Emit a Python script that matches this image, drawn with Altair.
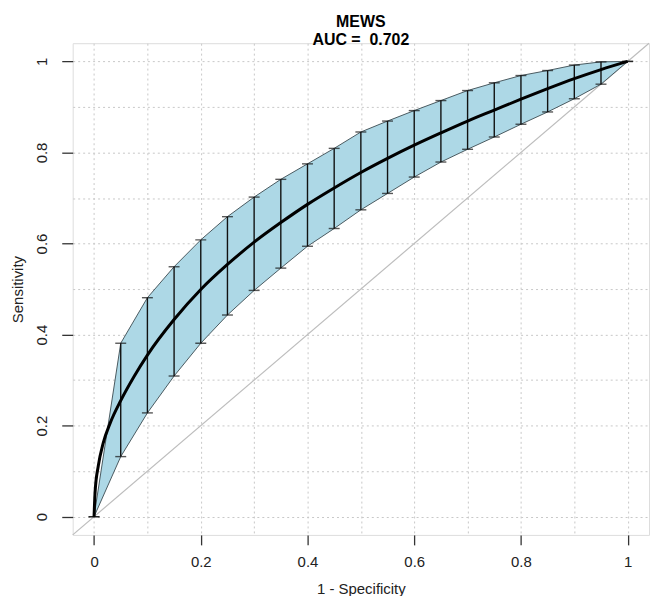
import altair as alt
import pandas as pd

# --- data ---
bar_x = [0.0, 0.05, 0.10, 0.15, 0.20, 0.25, 0.30, 0.35, 0.40, 0.45, 0.50,
         0.55, 0.60, 0.65, 0.70, 0.75, 0.80, 0.85, 0.90, 0.95, 1.0]
band_hi = [0.0, 0.381, 0.481, 0.549, 0.608, 0.659, 0.702, 0.741, 0.775, 0.809, 0.845,
           0.869, 0.892, 0.914, 0.936, 0.953, 0.969, 0.980, 0.992, 0.999, 1.0]
band_lo = [0.0, 0.132, 0.228, 0.309, 0.381, 0.443, 0.497, 0.546, 0.594, 0.633, 0.674,
           0.710, 0.746, 0.779, 0.807, 0.834, 0.862, 0.889, 0.918, 0.950, 1.0]

curve_x = [0.0, 0.002, 0.008, 0.017, 0.03, 0.05, 0.075, 0.10, 0.15, 0.20, 0.25, 0.30,
           0.35, 0.40, 0.45, 0.50, 0.55, 0.60, 0.65, 0.70, 0.75, 0.80, 0.85, 0.90, 0.95, 1.0]
curve_y = [0.0, 0.055, 0.112, 0.161, 0.205, 0.255, 0.308, 0.355, 0.433, 0.499, 0.554, 0.603,
           0.646, 0.686, 0.722, 0.756, 0.787, 0.816, 0.843, 0.869, 0.893, 0.917, 0.940, 0.962, 0.982, 1.0]

diag_v = [-0.04, 1.04]
grid_vals = [0.0, 0.1, 0.2, 0.3, 0.4, 0.5, 0.6, 0.7, 0.8, 0.9, 1.0]
tick_vals = [0.0, 0.2, 0.4, 0.6, 0.8, 1.0]

title_lines = ["MEWS", "AUC =\u00a0 0.702"]
x_title = "1 - Specificity"
y_title = "Sensitivity"

FONT = "Liberation Sans"

band_df = pd.DataFrame({"x": bar_x, "lo": band_lo, "hi": band_hi})
curve_df = pd.DataFrame({"x": curve_x, "y": curve_y})
diag_df = pd.DataFrame({"x": diag_v, "y": diag_v})

xs = alt.Scale(domain=[-0.04, 1.04], nice=False, zero=False)
ys = alt.Scale(domain=[-0.04, 1.04], nice=False, zero=False)

label_expr = "datum.value == 0 ? '0' : datum.value == 1 ? '1' : format(datum.value, '.1f')"

grid_axis = dict(values=grid_vals, grid=True, labels=False, ticks=False, domain=False,
                 title=None, gridColor="#c8c8c8", gridDash=[2, 3], gridWidth=1)

diag = alt.Chart(diag_df).mark_line(color="#bdbdbd", strokeWidth=1.2).encode(
    x=alt.X("x:Q", scale=xs, axis=alt.Axis(orient="bottom", **grid_axis)),
    y=alt.Y("y:Q", scale=ys, axis=alt.Axis(orient="left", **grid_axis)),
)

band = alt.Chart(band_df).mark_area(
    color="#add8e6", fillOpacity=1, stroke="#4a5a60", strokeWidth=1
).encode(
    x=alt.X("x:Q", scale=xs, axis=alt.Axis(
        orient="bottom", values=tick_vals, grid=False, domain=False,
        tickSize=10, tickColor="#333333", tickWidth=1.3,
        labelExpr=label_expr, labelFont=FONT, labelFontSize=15, labelColor="#222222",
        labelPadding=10, title=x_title, titleFont=FONT, titleFontSize=15,
        titleFontWeight="normal", titleColor="#222222", titlePadding=12)),
    y=alt.Y("hi:Q", scale=ys, axis=alt.Axis(
        orient="left", values=tick_vals, grid=False, domain=False,
        tickSize=11, tickColor="#333333", tickWidth=1.3,
        labelExpr=label_expr, labelFont=FONT, labelFontSize=15, labelColor="#222222",
        labelAngle=270, labelAlign="center", labelBaseline="bottom", labelPadding=12,
        title=y_title, titleFont=FONT, titleFontSize=15, titleFontWeight="normal",
        titleColor="#222222", titlePadding=9)),
    y2="lo:Q",
)

bars = alt.Chart(band_df).mark_rule(color="#111111", strokeWidth=1.4).encode(
    x=alt.X("x:Q", scale=xs, axis=None),
    y=alt.Y("lo:Q", scale=ys, axis=None),
    y2="hi:Q",
)

cap_hi = alt.Chart(band_df).mark_tick(color="#111111", orient="horizontal", size=11, thickness=1.4).encode(
    x=alt.X("x:Q", scale=xs, axis=None),
    y=alt.Y("hi:Q", scale=ys, axis=None),
)
cap_lo = alt.Chart(band_df).mark_tick(color="#111111", orient="horizontal", size=11, thickness=1.4).encode(
    x=alt.X("x:Q", scale=xs, axis=None),
    y=alt.Y("lo:Q", scale=ys, axis=None),
)

curve = alt.Chart(curve_df).mark_line(color="#000000", strokeWidth=3, interpolate="monotone").encode(
    x=alt.X("x:Q", scale=xs, axis=None),
    y=alt.Y("y:Q", scale=ys, axis=None),
)

chart = alt.layer(diag, band, bars, cap_hi, cap_lo, curve).resolve_axis(
    x="independent", y="independent"
).properties(
    width=579,
    height=494,
    title=alt.TitleParams(text=title_lines, font=FONT, fontSize=16, fontWeight="bold",
                          color="#000000", anchor="middle", baseline="bottom",
                          lineHeight=18, offset=1, dy=24),
    autosize=alt.AutoSizeParams(type="none"),
    padding={"left": 65, "top": 34, "right": 4, "bottom": 60},
).configure_view(stroke="#333333", strokeWidth=1.5).configure(background="white")

chart.save("out.html", embed_options={"renderer": "svg", "actions": False})
